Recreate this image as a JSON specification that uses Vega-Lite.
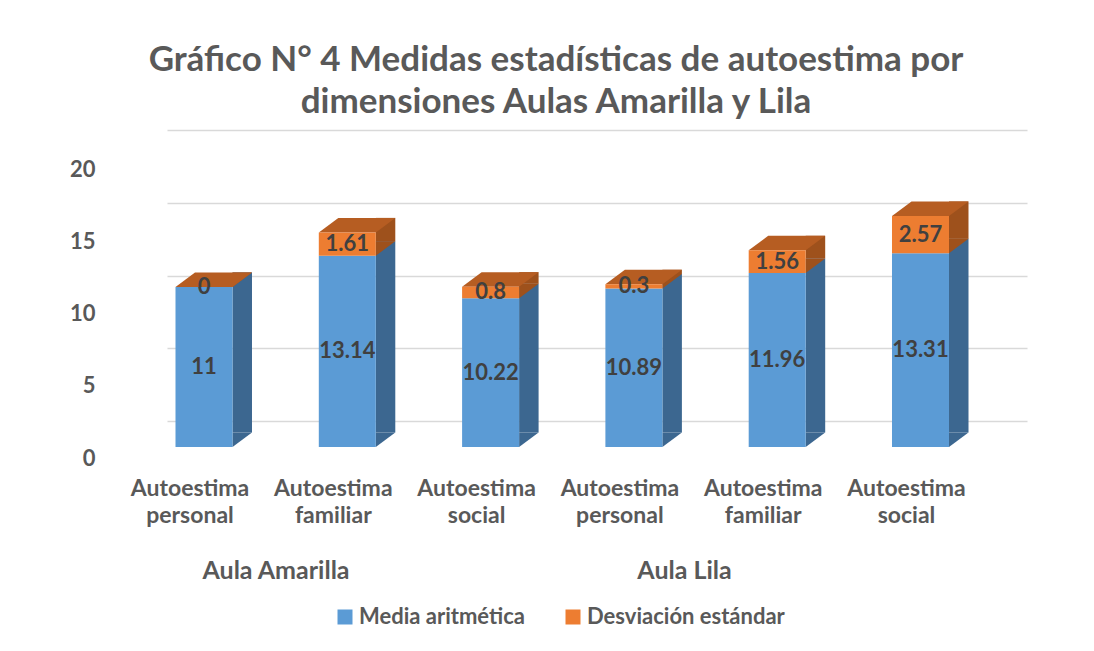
{
  "$schema": "https://vega.github.io/schema/vega-lite/v6.json",
  "width": 860,
  "height": 291,
  "autosize": {"type": "none"},
  "padding": {"left": 167, "top": 130, "right": 67, "bottom": 230},
  "background": "white",
  "config": {"view": {"stroke": null}, "font": "Lato"},
  "title": {
    "text": ["Gráfico N° 4 Medidas estadísticas de autoestima por", "dimensiones Aulas Amarilla y Lila"],
    "font": "Lato", "fontSize": 35, "fontWeight": "bold", "color": "#595959",
    "lineHeight": 42, "anchor": "middle", "frame": "group", "dx": -41, "offset": 10
  },
  "data": {
    "values": [
      {"barra": "Aula Amarilla|Autoestima personal", "aula": "Aula Amarilla", "serie": "Media aritmética", "valor": 11},
      {"barra": "Aula Amarilla|Autoestima personal", "aula": "Aula Amarilla", "serie": "Desviación estándar", "valor": 0},
      {"barra": "Aula Amarilla|Autoestima familiar", "aula": "Aula Amarilla", "serie": "Media aritmética", "valor": 13.14},
      {"barra": "Aula Amarilla|Autoestima familiar", "aula": "Aula Amarilla", "serie": "Desviación estándar", "valor": 1.61},
      {"barra": "Aula Amarilla|Autoestima social", "aula": "Aula Amarilla", "serie": "Media aritmética", "valor": 10.22},
      {"barra": "Aula Amarilla|Autoestima social", "aula": "Aula Amarilla", "serie": "Desviación estándar", "valor": 0.8},
      {"barra": "Aula Lila|Autoestima personal", "aula": "Aula Lila", "serie": "Media aritmética", "valor": 10.89},
      {"barra": "Aula Lila|Autoestima personal", "aula": "Aula Lila", "serie": "Desviación estándar", "valor": 0.3},
      {"barra": "Aula Lila|Autoestima familiar", "aula": "Aula Lila", "serie": "Media aritmética", "valor": 11.96},
      {"barra": "Aula Lila|Autoestima familiar", "aula": "Aula Lila", "serie": "Desviación estándar", "valor": 1.56},
      {"barra": "Aula Lila|Autoestima social", "aula": "Aula Lila", "serie": "Media aritmética", "valor": 13.31},
      {"barra": "Aula Lila|Autoestima social", "aula": "Aula Lila", "serie": "Desviación estándar", "valor": 2.57}
    ]
  },
  "transform": [
    {"stack": "valor", "groupby": ["barra"], "sort": [{"field": "serie", "order": "descending"}], "as": ["v0", "v1"]}
  ],
  "layer": [
    {
      "mark": {"type": "point", "opacity": 0},
      "encoding": {
        "y": {
          "field": "v1", "type": "quantitative",
          "scale": {"domain": [0, 20], "range": [291, 0], "nice": false},
          "axis": {"orient": "left", "values": [0, 5, 10, 15, 20], "grid": true, "gridColor": "#D9D9D9", "gridWidth": 1.5, "labels": false, "ticks": false, "domain": false, "title": null}
        }
      }
    },
    {
      "mark": {"type": "point", "opacity": 0},
      "encoding": {
        "y": {
          "field": "v1", "type": "quantitative",
          "scale": {"domain": [0, 20], "range": [328, 39], "nice": false},
          "axis": {"orient": "left", "values": [0, 5, 10, 15, 20], "grid": false, "ticks": false, "domain": false, "title": null,
                   "labelPadding": 72, "labelFontSize": 22, "labelFontWeight": "bold", "labelColor": "#595959", "labelFont": "Lato"}
        }
      }
    },
    {
      "mark": {"type": "bar", "strokeWidth": 0},
      "encoding": {
        "x": {"field": "barra", "type": "nominal", "sort": null,
              "scale": {"type": "band", "range": [65.5, 801.5], "paddingInner": 0.864, "paddingOuter": 0}, "axis": null},
        "y": {"field": "v1", "type": "quantitative", "scale": {"domain": [0, 20], "range": [302.5, 11.5], "nice": false}, "axis": null},
        "y2": {"field": "v0"},
        "color": {"condition": {"test": "datum.serie === 'Media aritmética'", "value": "#3C6790"}, "value": "#9E511C"}
      }
    },
    {
      "layer": [
        {
          "mark": {"type": "point", "filled": true, "opacity": 1, "size": 6400, "strokeWidth": 0,
                   "shape": "M0.7125,-0.3625L0.7125,0L1.2,-0.3625Z"},
          "encoding": {
            "x": {"field": "barra", "type": "nominal", "sort": null,
                  "scale": {"type": "band", "range": [8.5, 782], "paddingInner": 0.6022, "paddingOuter": 0}},
            "y": {"field": "v0", "type": "quantitative", "scale": {"domain": [0, 20], "range": [317, 26], "nice": false}, "axis": null},
            "color": {"condition": {"test": "datum.serie === 'Media aritmética'", "value": "#3C6790"}, "value": "#9E511C"}
          }
        },
        {
          "transform": [{"filter": "datum.serie === 'Desviación estándar'"}],
          "mark": {"type": "point", "filled": true, "opacity": 1, "size": 6400, "strokeWidth": 0, "color": "#B65D22",
                   "shape": "M-0.7125,0L0.7125,0L1.2,-0.3625L-0.225,-0.3625Z"},
          "encoding": {
            "x": {"field": "barra", "type": "nominal", "sort": null,
                  "scale": {"type": "band", "range": [8.5, 782], "paddingInner": 0.6022, "paddingOuter": 0}},
            "y": {"field": "v1", "type": "quantitative", "scale": {"domain": [0, 20], "range": [317, 26], "nice": false}, "axis": null}
          }
        },
        {
          "mark": {"type": "bar", "strokeWidth": 0},
          "encoding": {
            "x": {"field": "barra", "type": "nominal", "sort": null,
                  "scale": {"type": "band", "range": [8.5, 782], "paddingInner": 0.6022, "paddingOuter": 0},
                  "axis": {"orient": "bottom", "ticks": false, "domain": false, "grid": false, "labelAngle": 0, "labelAlign": "center",
                           "labelPadding": 56, "labelOffset": -14, "labelFontSize": 23, "labelFontWeight": "bold",
                           "labelColor": "#595959", "labelFont": "Lato", "labelLineHeight": 27, "labelBaseline": "top",
                           "labelLimit": 0, "labelExpr": "split(split(datum.label, '|')[1], ' ')", "title": null}},
            "y": {"field": "v1", "type": "quantitative", "scale": {"domain": [0, 20], "range": [317, 26], "nice": false}, "axis": null},
            "y2": {"field": "v0"},
            "color": {
              "field": "serie", "type": "nominal",
              "scale": {"domain": ["Media aritmética", "Desviación estándar"], "range": ["#5B9BD5", "#ED7D31"]},
              "legend": {"orient": "none", "legendX": 167, "legendY": 476, "direction": "horizontal", "title": null,
                         "symbolType": "square", "symbolSize": 225, "symbolStrokeWidth": 0, "labelLimit": 0,
                         "labelFontSize": 22, "labelFont": "Lato", "labelFontWeight": "bold", "labelColor": "#595959",
                         "columnPadding": 37, "labelOffset": 3, "padding": 0}
            }
          }
        },
        {
          "transform": [{"fold": ["v0", "v1"], "as": ["extremo", "pos"]}],
          "mark": {"type": "text", "font": "Lato", "fontSize": 22, "fontWeight": "bold", "color": "#404040", "baseline": "middle"},
          "encoding": {
            "x": {"field": "barra", "type": "nominal", "sort": null,
                  "scale": {"type": "band", "range": [8.5, 782], "paddingInner": 0.6022, "paddingOuter": 0}},
            "y": {"aggregate": "mean", "field": "pos", "type": "quantitative", "scale": {"domain": [0, 20], "range": [317, 26], "nice": false}, "axis": null},
            "detail": {"field": "serie", "type": "nominal"},
            "text": {"field": "valor", "type": "nominal"}
          }
        }
      ]
    },
    {
      "mark": {"type": "point", "opacity": 0},
      "encoding": {
        "x": {"field": "aula", "type": "nominal",
              "scale": {"type": "point", "domain": ["Aula Amarilla", "Aula Lila"], "range": [108.5, 517], "padding": 0},
              "axis": {"orient": "bottom", "ticks": false, "domain": false, "grid": false, "labelAngle": 0, "labelPadding": 137,
                       "labelFontSize": 25, "labelFontWeight": "bold", "labelColor": "#595959", "labelFont": "Lato",
                       "labelBaseline": "top", "title": null}}
      }
    }
  ],
  "resolve": {"scale": {"x": "independent", "y": "independent"}, "axis": {"x": "independent", "y": "independent"}}
}
